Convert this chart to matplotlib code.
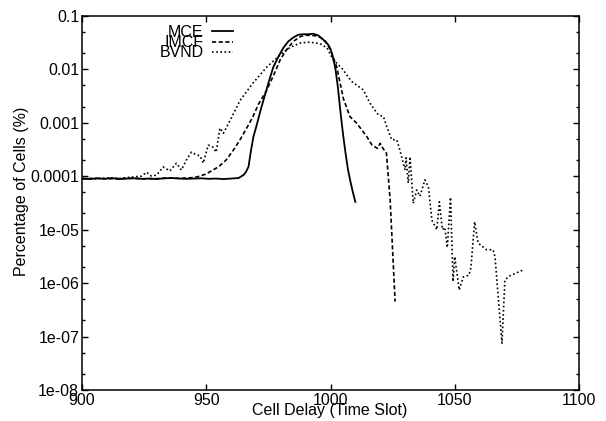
import numpy as np
import matplotlib
matplotlib.use('Agg')
import matplotlib.pyplot as plt
from matplotlib.ticker import LogLocator, FixedLocator, NullFormatter

plt.rcParams['font.family'] = ['Liberation Sans', 'DejaVu Sans']

# MCE (solid)
mce_x = [900, 903, 906, 909, 912, 915, 918, 921, 924, 927, 930, 933, 936, 939, 942,
         945, 948, 951, 954, 957, 960, 963, 965, 966, 967, 968, 969, 970, 971, 972,
         973, 975, 977, 979, 981, 983, 985, 987, 989, 991, 993, 995, 997, 999, 1000,
         1001, 1002, 1003, 1004, 1005, 1006, 1007, 1008, 1009, 1010]
mce_y = [9.0e-5, 8.8e-5, 9.1e-5, 8.9e-5, 9.2e-5, 8.8e-5, 9.0e-5, 9.1e-5, 8.9e-5, 9.0e-5,
         8.8e-5, 9.1e-5, 9.2e-5, 9.0e-5, 8.9e-5, 9.0e-5, 9.1e-5, 8.9e-5, 9.0e-5, 8.8e-5,
         9.0e-5, 9.2e-5, 1.05e-4, 1.2e-4, 1.5e-4, 3.0e-4, 5.5e-4, 8.0e-4, 1.2e-3, 1.8e-3,
         2.6e-3, 5.5e-3, 0.011, 0.017, 0.025, 0.033, 0.039, 0.044, 0.045, 0.045,
         0.046, 0.043, 0.036, 0.029, 0.024, 0.0166, 0.010, 0.0045, 0.0016, 6.3e-4,
         2.8e-4, 1.35e-4, 8.0e-5, 5.0e-5, 3.3e-5]

# IMCF (dashed)
imcf_x = [900, 905, 910, 915, 920, 925, 930, 935, 940, 945, 947.5, 950, 952.7, 955, 958,
          961, 963.6, 966, 968.8, 971, 974.4, 977, 979.7, 982, 985, 988, 990, 992, 994,
          996, 998, 1000, 1002.5, 1005.2, 1007.8, 1010.5, 1012.5, 1014.6, 1016.7, 1018.9,
          1020, 1021.1, 1022.5, 1024, 1026]
imcf_y = [8.9e-5, 9.1e-5, 8.9e-5, 9.0e-5, 9.1e-5, 8.9e-5, 9.0e-5, 9.2e-5, 9.1e-5, 9.4e-5,
          1.0e-4, 1.1e-4, 1.3e-4, 1.5e-4, 2.0e-4, 3.1e-4, 4.8e-4, 7.5e-4, 1.3e-3, 2.2e-3,
          4.1e-3, 7.5e-3, 0.0148, 0.022, 0.033, 0.041, 0.043, 0.043, 0.042, 0.039,
          0.033, 0.023, 0.011, 0.0028, 1.3e-3, 9.8e-4, 7.4e-4, 5.5e-4, 3.8e-4, 3.3e-4,
          4.1e-4, 3.3e-4, 2.7e-4, 3.6e-5, 4.5e-7]

# BVND (dotted)
bvnd_x = [900, 905, 910, 915, 919, 922, 924, 926, 928, 930, 932.7, 935.4, 938, 940, 942,
          944, 946, 947.5, 948.8, 950.8, 952.7, 954, 955.5, 956.9, 959.6, 963.6, 968.8,
          974.4, 980, 984, 988, 991.7, 995.8, 998.6, 1001.1, 1004.5, 1008.5, 1013.2,
          1015.9, 1019.2, 1021.3, 1022.6, 1024.6, 1026.6, 1027.5, 1028.6, 1030, 1030.4,
          1031.3, 1032, 1033.3, 1034.7, 1036, 1038, 1039.4, 1040.8, 1042.8, 1043.8,
          1045, 1046, 1047, 1048.3, 1049.3, 1050, 1051.8, 1053.4, 1055.7, 1056.5, 1058,
          1059.4, 1062.8, 1065.4, 1066.2, 1069, 1070.2, 1072, 1078]
bvnd_y = [9.1e-5, 8.9e-5, 9.2e-5, 9.0e-5, 9.5e-5, 9.8e-5, 1.0e-4, 1.18e-4, 1.0e-4, 1.05e-4,
          1.48e-4, 1.25e-4, 1.75e-4, 1.3e-4, 2.0e-4, 2.8e-4, 2.5e-4, 2.4e-4, 1.75e-4,
          3.8e-4, 3.5e-4, 2.8e-4, 7.9e-4, 6.3e-4, 1.1e-3, 2.6e-3, 5.5e-3, 0.011, 0.019,
          0.026, 0.031, 0.032, 0.030, 0.025, 0.015, 0.0105, 0.0059, 0.0041, 0.0023,
          1.4e-3, 1.3e-3, 8.5e-4, 4.8e-4, 4.8e-4, 3.6e-4, 2.3e-4, 1.3e-4, 2.2e-4, 7.4e-5,
          2.3e-4, 3.1e-5, 5.5e-5, 4.2e-5, 8.5e-5, 6.3e-5, 1.5e-5, 1.0e-5, 3.3e-5, 1.0e-5,
          1.1e-5, 4.6e-6, 4.0e-5, 1.07e-6, 3.1e-6, 7.4e-7, 1.3e-6, 1.4e-6, 1.95e-6,
          1.4e-5, 5.6e-6, 4.2e-6, 4.2e-6, 3.1e-6, 7.5e-8, 1.15e-6, 1.35e-6, 1.8e-6]

xticks = [900, 950, 1000, 1050, 1100]
yticks = [0.1, 0.01, 0.001, 0.0001, 1e-5, 1e-6, 1e-7, 1e-8]
ytick_labels = ['0.1', '0.01', '0.001', '0.0001', '1e-05', '1e-06', '1e-07', '1e-08']

fs = 11.5
fig = plt.figure(figsize=(6.06, 4.21), dpi=100)
ax = fig.add_axes([82 / 606, 1 - 390 / 421, 497 / 606, 374.3 / 421])

ax.plot(mce_x, mce_y, color='black', lw=1.3, ls='-', label='MCE')
ax.plot(imcf_x, imcf_y, color='black', lw=1.2, ls=(0, (2.5, 1.5)), label='IMCF')
ax.plot(bvnd_x, bvnd_y, color='black', lw=1.2, ls=(0, (1, 1.5)), label='BVND')

ax.set_yscale('log')
ax.set_xlim(900, 1100)
ax.set_ylim(1e-8, 0.1)
ax.xaxis.set_major_locator(FixedLocator(xticks))
ax.set_xticklabels([str(t) for t in xticks])
ax.yaxis.set_major_locator(FixedLocator(yticks))
ax.set_yticklabels(ytick_labels)
ax.yaxis.set_minor_locator(LogLocator(base=10, subs=[2, 5], numticks=20))
ax.yaxis.set_minor_formatter(NullFormatter())

ax.tick_params(which='both', direction='in', top=True, right=True, width=1.0,
               labelsize=fs, colors='black')
ax.tick_params(which='major', length=4.5, pad=2)
ax.tick_params(which='minor', length=2.5)
for s in ax.spines.values():
    s.set_linewidth(1.1)

ax.set_xlabel('Cell Delay (Time Slot)', fontsize=fs)
ax.xaxis.set_label_coords(0.499, -0.056)
ax.xaxis.label.set_va('center')
ax.set_ylabel('Percentage of Cells (%)', fontsize=fs)
ax.yaxis.set_label_coords(-0.121, 0.532)
ax.yaxis.label.set_va('center')

ax.legend(loc='upper right', bbox_to_anchor=(0.304, 0.975), frameon=False,
          markerfirst=False, fontsize=fs, labelspacing=-0.3, handlelength=1.35,
          handletextpad=0.5, borderpad=0, borderaxespad=0)

fig.savefig('out.png', dpi=100)
